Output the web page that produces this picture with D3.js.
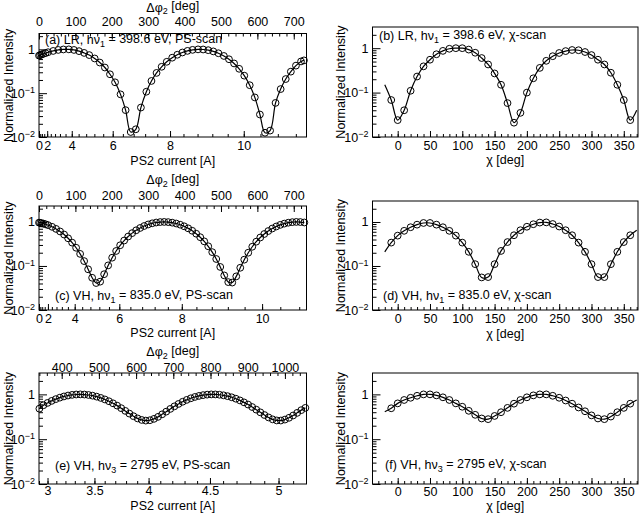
<!DOCTYPE html>
<html>
<head>
<meta charset="utf-8">
<script src="https://cdn.jsdelivr.net/npm/d3@7"></script>
<style>
  body { margin: 0; background: #fff; }
</style>
</head>
<body>
<svg width="640" height="514"></svg>
<script>
// ---- data ----
// PS-scans: x positions in delta-phi2 [deg] (top axis), normalized intensity
const dphiA = [0, 3, 7, 12, 18, 25, 39, 53, 67, 82, 96, 110, 124, 138, 153, 167, 181, 195, 209, 224,
  238, 252, 266, 280, 295, 309, 323, 337, 351, 366, 380, 394, 408, 422, 437, 451, 465, 479, 493, 508,
  522, 536, 550, 564, 579, 593, 607, 621, 635, 650, 664, 678, 692, 706, 720, 728];
const intA = [0.72, 0.74, 0.76, 0.79, 0.82, 0.86, 0.92, 0.97, 0.995, 1.0, 0.97, 0.91, 0.83, 0.74, 0.62, 0.50, 0.385, 0.27, 0.177, 0.094,
  0.041, 0.013, 0.015, 0.047, 0.108, 0.19, 0.29, 0.40, 0.52, 0.645, 0.753, 0.848, 0.923, 0.974, 0.999, 0.993, 0.958, 0.898, 0.815, 0.707,
  0.595, 0.477, 0.36, 0.251, 0.152, 0.080, 0.0326, 0.0125, 0.014, 0.060, 0.124, 0.21, 0.31, 0.425, 0.53, 0.56];

const dphiC = [0, 3, 7, 12, 18, 25, 36, 47, 58, 69, 80, 91, 102, 113, 124, 135, 146, 157, 168, 179,
  190, 201, 212, 223, 234, 245, 256, 267, 278, 289, 300, 311, 322, 333, 344, 355, 366, 377, 388, 399,
  410, 421, 432, 443, 454, 465, 476, 487, 498, 509, 520, 531, 542, 553, 564, 575, 586, 597, 608, 619,
  630, 641, 652, 663, 674, 685, 696, 707, 718, 729];
const intC = [0.963, 0.953, 0.937, 0.916, 0.886, 0.846, 0.774, 0.694, 0.607, 0.517, 0.425, 0.339, 0.259, 0.188, 0.129, 0.084, 0.054, 0.041, 0.044, 0.065,
  0.103, 0.154, 0.219, 0.295, 0.378, 0.466, 0.557, 0.646, 0.730, 0.808, 0.876, 0.930, 0.969, 0.993, 1.0, 0.990, 0.963, 0.921, 0.864, 0.795,
  0.715, 0.630, 0.540, 0.450, 0.362, 0.280, 0.206, 0.144, 0.095, 0.061, 0.043, 0.042, 0.058, 0.091, 0.139, 0.200, 0.273, 0.356, 0.443, 0.532,
  0.621, 0.709, 0.788, 0.858, 0.916, 0.960, 0.988, 1.0, 0.994, 0.972];

const dphiE = [340, 351, 362, 373, 384, 395, 406, 417, 428, 439, 450, 461, 472, 483, 494, 505, 516, 527, 538, 549,
  560, 571, 582, 593, 604, 615, 626, 637, 648, 659, 670, 681, 692, 703, 714, 725, 736, 747, 758, 769,
  780, 791, 802, 813, 824, 835, 846, 857, 868, 879, 890, 901, 912, 923, 934, 945, 956, 967, 978, 989,
  1000, 1011, 1022, 1033, 1044, 1055];
const intE = [0.48, 0.573, 0.645, 0.715, 0.783, 0.845, 0.899, 0.943, 0.975, 0.994, 1.0, 0.992, 0.970, 0.936, 0.890, 0.834, 0.771, 0.703, 0.632, 0.561,
  0.492, 0.428, 0.372, 0.326, 0.291, 0.269, 0.260, 0.265, 0.284, 0.315, 0.359, 0.412, 0.474, 0.541, 0.612, 0.684, 0.753, 0.818, 0.876, 0.924,
  0.962, 0.987, 0.999, 0.997, 0.982, 0.953, 0.912, 0.861, 0.801, 0.734, 0.664, 0.593, 0.522, 0.456, 0.397, 0.346, 0.306, 0.277, 0.262, 0.261,
  0.274, 0.300, 0.338, 0.387, 0.445, 0.50];

// chi-scans
const chiVals = [-10, 0, 10, 20, 30, 40, 50, 60, 70, 80, 90, 100, 110, 120, 130, 140, 150, 160, 170, 180,
  190, 200, 210, 220, 230, 240, 250, 260, 270, 280, 290, 300, 310, 320, 330, 340, 350, 360];
const intB = [0.068, 0.024, 0.040, 0.11, 0.23, 0.39, 0.55, 0.73, 0.87, 0.97, 1.0, 1.0, 0.93, 0.79, 0.6, 0.43, 0.27, 0.15, 0.058, 0.021,
  0.035, 0.10, 0.21, 0.36, 0.52, 0.66, 0.78, 0.86, 0.91, 0.9, 0.82, 0.7, 0.55, 0.43, 0.28, 0.15, 0.068, 0.024];
const intD = [0.34, 0.49, 0.63, 0.76, 0.87, 0.95, 0.95, 0.87, 0.76, 0.63, 0.49, 0.34, 0.21, 0.11, 0.055, 0.056, 0.11, 0.22, 0.35, 0.5,
  0.65, 0.78, 0.89, 0.97, 0.98, 0.9, 0.79, 0.65, 0.5, 0.34, 0.21, 0.11, 0.056, 0.056, 0.11, 0.21, 0.35, 0.5];
const intF = [0.49, 0.63, 0.75, 0.84, 0.93, 1.0, 1.0, 0.95, 0.86, 0.75, 0.63, 0.53, 0.43, 0.35, 0.29, 0.28, 0.33, 0.4, 0.5, 0.62,
  0.75, 0.86, 0.95, 1.0, 1.0, 0.93, 0.84, 0.73, 0.62, 0.51, 0.42, 0.34, 0.29, 0.28, 0.32, 0.4, 0.5, 0.62];
// fit curve end points (chi = -20 and 370)
const fitChiEnds = [-20, 370];
const fitEndsB = [0.15, 0.04];
const fitEndsD = [0.21, 0.65];
const fitEndsF = [0.41, 0.75];

// tick labels
const yTicks = [0.01, 0.1, 1];
const psTicksAC = [0, 2, 4, 6, 8, 10];
const psTicksE = [3, 3.5, 4, 4.5, 5];
const dphiTicksAC = [0, 100, 200, 300, 400, 500, 600, 700];
const dphiTicksE = [400, 500, 600, 700, 800, 900, 1000];
const chiTicks = [0, 50, 100, 150, 200, 250, 300, 350];

// ---- drawing ----
const svg = d3.select('svg');
const FONT = '"Liberation Sans", Arial, Helvetica, sans-serif';
const FS = 12.5;

const setFont = sel => sel.attr('font-family', FONT).attr('font-size', FS);

// text with subscript parts: strings are normal, [str] is subscript
const richText = (g, x, y, parts, anchor) => {
    const t = g.append('text')
        .attr('x', x).attr('y', y)
        .attr('font-family', FONT).attr('font-size', FS)
        .attr('text-anchor', anchor || 'start');
    let shifted = false;
    parts.forEach(p => {
        if (Array.isArray(p)) {
            t.append('tspan').attr('dy', '0.3em').attr('font-size', 9).text(p[0]);
            shifted = true;
        } else {
            const s = t.append('tspan').text(p);
            if (shifted) { s.attr('dy', '-0.3em'); shifted = false; }
        }
    });
    return t;
};

const minorRange = (lo, hi, step) => d3.range(Math.ceil(lo / step - 1e-9) * step, hi + 1e-9, step)
    .map(v => +v.toFixed(4));

const drawPanel = p => {
    const g = svg.append('g');
    const xData = d3.scaleLinear().domain(p.xDomain).range([p.x0, p.x1]);
    const yScale = d3.scaleLog().domain([0.01, p.yTop]).range([p.y1, p.y0]);

    // y axis
    const yMinor = [];
    yTicks.forEach(d => d3.range(2, 10).forEach(m => { if (d * m < p.yTop) yMinor.push(d * m); }));
    g.append('g').attr('transform', `translate(${p.x0},0)`)
        .call(d3.axisLeft(yScale).tickValues(yMinor).tickSize(-4).tickFormat(''))
        .call(a => a.select('.domain').remove());
    const yAxisG = g.append('g').attr('transform', `translate(${p.x0},0)`)
        .call(d3.axisLeft(yScale).tickValues(yTicks).tickSize(-8).tickPadding(4));
    yAxisG.select('.domain').remove();
    setFont(yAxisG);
    yAxisG.selectAll('text').each(function (d) {
        const t = d3.select(this).text('');
        if (d === 1) { t.text('1'); return; }
        t.append('tspan').text('10');
        t.append('tspan').attr('dy', '-0.5em').attr('font-size', 9)
            .text('\u2212' + Math.round(-Math.log10(d)));
    });

    // bottom axis
    let xBottom, bMinor;
    if (p.bDomain) {
        xBottom = d3.scalePow().exponent(2).domain(p.bDomain).range([p.x0, p.x1]);
        bMinor = minorRange(p.bDomain[0], p.bDomain[1], p.bMinorStep);
    } else {
        xBottom = xData;
        bMinor = minorRange(p.xDomain[0], p.xDomain[1], p.bMinorStep);
    }
    g.append('g').attr('transform', `translate(0,${p.y1})`)
        .call(d3.axisBottom(xBottom).tickValues(bMinor).tickSize(-3).tickFormat(''))
        .call(a => a.select('.domain').remove());
    const xAxisG = g.append('g').attr('transform', `translate(0,${p.y1})`)
        .call(d3.axisBottom(xBottom).tickValues(p.bTicks).tickSize(-6).tickPadding(p.bPad).tickFormat(d => d));
    xAxisG.select('.domain').remove();
    setFont(xAxisG);

    // top axis (delta phi)
    if (p.tTicks) {
        g.append('g').attr('transform', `translate(0,${p.y0})`)
            .call(d3.axisTop(xData).tickValues(minorRange(p.xDomain[0], p.xDomain[1], 20)).tickSize(-3).tickFormat(''))
            .call(a => a.select('.domain').remove());
        const tAxisG = g.append('g').attr('transform', `translate(0,${p.y0})`)
            .call(d3.axisTop(xData).tickValues(p.tTicks).tickSize(-6).tickPadding(p.tPad).tickFormat(d => d));
        tAxisG.select('.domain').remove();
        setFont(tAxisG);
        richText(g, (p.x0 + p.x1) / 2, p.tTitleY, ['\u0394\u03c6', ['2'], ' [deg]'], 'middle');
    }

    // frame
    g.append('rect')
        .attr('x', p.x0).attr('y', p.y0)
        .attr('width', p.x1 - p.x0).attr('height', p.y1 - p.y0)
        .attr('fill', 'none').attr('stroke', 'black').attr('stroke-width', 1);

    // fit line and points
    const lineGen = d3.line()
        .x(d => xData(d[0]))
        .y(d => yScale(d[1]))
        .curve(d3.curveCatmullRom.alpha(0.5));
    const pts = p.xs.map((v, i) => [v, p.ys[i]]);
    const fit = p.ends
        ? [[fitChiEnds[0], p.ends[0]], ...pts, [fitChiEnds[1], p.ends[1]]]
        : pts;
    g.append('path')
        .attr('d', lineGen(fit))
        .attr('fill', 'none').attr('stroke', 'black').attr('stroke-width', 1.2);
    g.selectAll('circle.pt').data(pts).enter().append('circle')
        .attr('class', 'pt')
        .attr('cx', d => xData(d[0]))
        .attr('cy', d => yScale(d[1]))
        .attr('r', 3.4)
        .attr('fill', 'none').attr('stroke', 'black').attr('stroke-width', 1);

    // titles
    richText(g, (p.x0 + p.x1) / 2, p.bTitleY, p.bTitle, 'middle');
    const cy = (p.y0 + p.y1) / 2;
    g.append('text')
        .attr('transform', `translate(${p.yTitleX},${cy}) rotate(-90)`)
        .attr('text-anchor', 'middle')
        .attr('font-family', FONT).attr('font-size', FS)
        .text('Normalized Intensity');
    richText(g, p.labX, p.labY, p.label);
};

const panels = [
    { x0: 39, x1: 306.5, y0: 33.5, y1: 137, yTop: 2.3, xDomain: [0, 735], xs: dphiA, ys: intA,
      bDomain: [0, 11.43], bTicks: psTicksAC, bMinorStep: 0.4, bPad: 4, tTicks: dphiTicksAC, tPad: 7.5, tTitleY: 11.5,
      bTitle: ['PS2 current [A]'], bTitleY: 165, yTitleX: 13,
      label: ['(a) LR, h\u03bd', ['1'], ' = 398.6 eV, PS-scan'], labX: 45, labY: 44 },
    { x0: 372.5, x1: 638, y0: 27, y1: 137, yTop: 3, xDomain: [-39, 372], xs: chiVals, ys: intB, ends: fitEndsB,
      bTicks: chiTicks, bMinorStep: 10, bPad: 4,
      bTitle: ['\u03c7 [deg]'], bTitleY: 164, yTitleX: 345,
      label: ['(b) LR, h\u03bd', ['1'], ' = 398.6 eV, \u03c7-scan'], labX: 379, labY: 40 },
    { x0: 39, x1: 306.5, y0: 206, y1: 310, yTop: 2.3, xDomain: [0, 735], xs: dphiC, ys: intC,
      bDomain: [0, 10.95], bTicks: psTicksAC, bMinorStep: 0.4, bPad: 4, tTicks: dphiTicksAC, tPad: 6.5, tTitleY: 184,
      bTitle: ['PS2 current [A]'], bTitleY: 337, yTitleX: 13,
      label: ['(c) VH, h\u03bd', ['1'], ' = 835.0 eV, PS-scan'], labX: 55, labY: 300 },
    { x0: 372.5, x1: 638, y0: 201, y1: 310, yTop: 3, xDomain: [-39, 372], xs: chiVals, ys: intD, ends: fitEndsD,
      bTicks: chiTicks, bMinorStep: 10, bPad: 4.5,
      bTitle: ['\u03c7 [deg]'], bTitleY: 338, yTitleX: 345,
      label: ['(d) VH, h\u03bd', ['1'], ' = 835.0 eV, \u03c7-scan'], labX: 383, labY: 300 },
    { x0: 39, x1: 306.5, y0: 373, y1: 484, yTop: 3, xDomain: [339, 1058], xs: dphiE, ys: intE,
      bDomain: [2.90, 5.19], bTicks: psTicksE, bMinorStep: 0.1, bPad: 2.5, tTicks: dphiTicksE, tPad: 1.5, tTitleY: 356,
      bTitle: ['PS2 current [A]'], bTitleY: 509.5, yTitleX: 13,
      label: ['(e) VH, h\u03bd', ['3'], ' = 2795 eV, PS-scan'], labX: 55, labY: 470 },
    { x0: 372.5, x1: 638, y0: 373, y1: 484, yTop: 3, xDomain: [-39, 372], xs: chiVals, ys: intF, ends: fitEndsF,
      bTicks: chiTicks, bMinorStep: 10, bPad: 3,
      bTitle: ['\u03c7 [deg]'], bTitleY: 510, yTitleX: 345,
      label: ['(f) VH, h\u03bd', ['3'], ' = 2795 eV, \u03c7-scan'], labX: 385, labY: 469 }
];

panels.forEach(drawPanel);
</script>
</body>
</html>
